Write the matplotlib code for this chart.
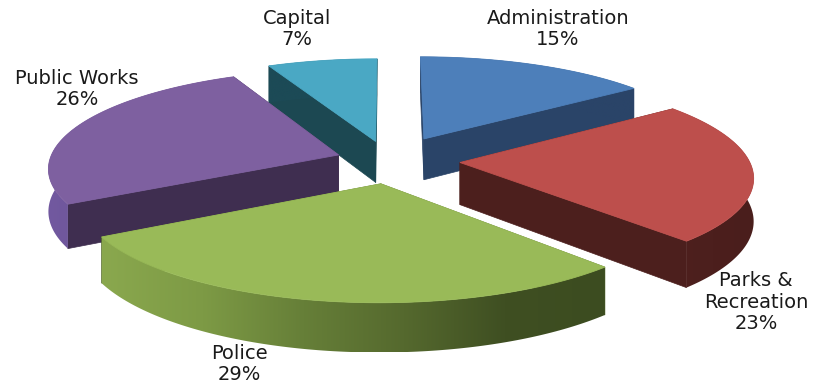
import math
import numpy as np
import matplotlib
matplotlib.use("Agg")
import matplotlib.pyplot as plt
from matplotlib.colors import LinearSegmentedColormap
from matplotlib.patches import Polygon

names = ['Administration', 'Parks &\nRecreation', 'Police', 'Public Works', 'Capital']
values = [15, 23, 29, 26, 7]

explode = [0.25, 0.27, 0.24, 0.17, 0.20]
nudge = [7, -3, 7, 0, 3]  # sideways pixel shift per slice
top_colors = ['#4d7fba', '#bd4f4c', '#99ba58', '#7e60a0', '#4aa8c4']
wall_colors = [['#2a4468', '#2a4468'],
               ['#4e201e', '#4a1e1c'],
               ['#8aa84e', '#7d9a45', '#667f38', '#55692e', '#3f4f22', '#3c4c20'],
               ['#7259a0', '#5d4880'],
               ['#1c4a56', '#1c4a56']]
cut_colors = ['#2a4468', '#4c1f1d', '#5c7232', '#3f2e50', '#1c4852']
label_pos = [(558, 29), (756, 302), (239, 364), (77, 89), (297, 29)]

# projection settings for the tilted pie
cx, cy = 385, 160
rx, ry = 289, 97.4
persp = 0.126
depth = 42


def project(u, v, z=0):
    # u is right, v is towards the viewer, z is down
    p = 1 / (1 - persp * v)
    return cx + rx * u * p, cy + ry * v * p + depth * z * p


fig = plt.figure(figsize=(8.2, 3.85), dpi=100)
ax = fig.add_axes([0, 0, 1, 1])
ax.axis('off')

total = sum(values)
starts = np.cumsum([0] + values[:-1]) / total * 2 * math.pi
sweeps = np.array(values) / total * 2 * math.pi

# back slices first so the nearer ones paint over them
order = [4, 0, 3, 1, 2]
z = 1
for i in order:
    mid = starts[i] + sweeps[i] / 2
    ou = explode[i] * math.sin(mid)
    ov = -explode[i] * math.cos(mid)
    angles = np.linspace(starts[i], starts[i] + sweeps[i], 120)
    us = ou + np.sin(angles)
    vs = ov - np.cos(angles)
    rim = np.array([project(a, b) for a, b in zip(us, vs)]) + [nudge[i], 0]
    rim_low = np.array([project(a, b, 1) for a, b in zip(us, vs)]) + [nudge[i], 0]
    apex = np.array(project(ou, ov)) + [nudge[i], 0]
    apex_low = np.array(project(ou, ov, 1)) + [nudge[i], 0]

    # radial cut faces
    for k in [0, -1]:
        quad = [apex, rim[k], rim_low[k], apex_low]
        ax.add_patch(Polygon(quad, closed=True, fc=cut_colors[i], ec=cut_colors[i], lw=0.5, zorder=z))
    z += 1

    # outer wall, gradient runs left to right
    wall = np.vstack([rim, rim_low[::-1]])
    x0, x1 = wall[:, 0].min(), wall[:, 0].max()
    y0, y1 = wall[:, 1].min(), wall[:, 1].max()
    cmap = LinearSegmentedColormap.from_list('wall', wall_colors[i])
    im = ax.imshow(np.linspace(0, 1, 256).reshape(1, -1), cmap=cmap, aspect='auto',
                   extent=(x0, x1, y1, y0), interpolation='bilinear', zorder=z)
    clip = Polygon(wall, closed=True, transform=ax.transData)
    im.set_clip_path(clip)
    z += 1

    # top face
    pts = np.vstack([apex, rim])
    ax.add_patch(Polygon(pts, closed=True, fc=top_colors[i], ec=top_colors[i], lw=0.6, zorder=z))
    z += 1

ax.set_xlim(0, 820)
ax.set_ylim(385, 0)

for name, val, (x, y) in zip(names, values, label_pos):
    ax.text(x, y, f"{name}\n{val}%", ha='center', va='center', fontsize=14,
            color='#1a1a1a', linespacing=1.15, zorder=z)

fig.savefig('out.png', dpi=100)
